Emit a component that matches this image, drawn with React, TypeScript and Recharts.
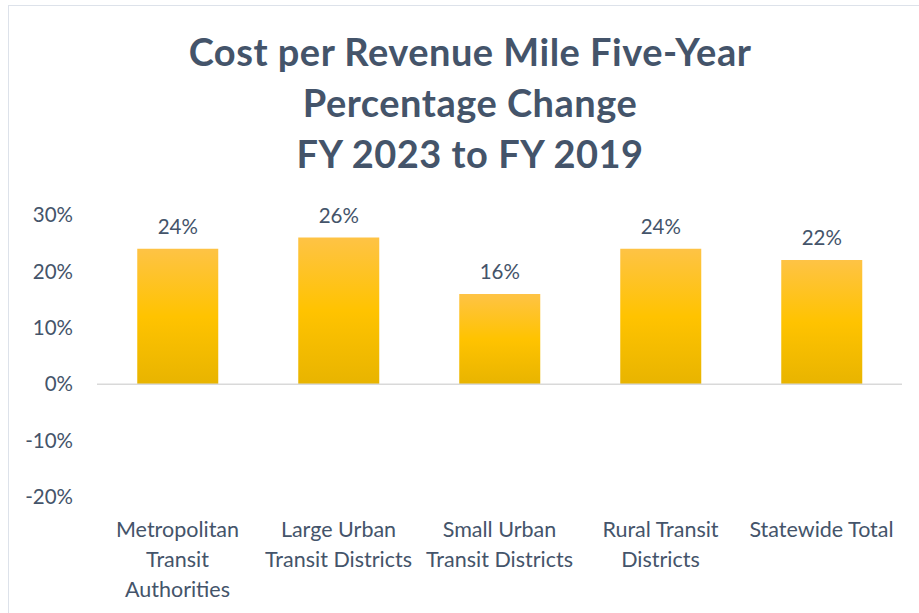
import React from "react";
import { BarChart, Bar, XAxis, YAxis, ReferenceLine, LabelList } from "recharts";

const categories = [
  "Metropolitan Transit Authorities",
  "Large Urban Transit Districts",
  "Small Urban Transit Districts",
  "Rural Transit Districts",
  "Statewide Total",
];
// how each category label wraps under the axis
const tickLines = [
  ["Metropolitan", "Transit", "Authorities"],
  ["Large Urban", "Transit Districts"],
  ["Small Urban", "Transit Districts"],
  ["Rural Transit", "Districts"],
  ["Statewide Total"],
];
const pctChange = [24, 26, 16, 24, 22];
const yTicks = [-20, -10, 0, 10, 20, 30];

const titleLines = ["Cost per Revenue Mile Five-Year", "Percentage Change", "FY 2023 to FY 2019"];

const data = categories.map((name, i) => ({ name, value: pctChange[i] }));

const textColor = "#44546A";
const font = "Lato, 'Open Sans', sans-serif";

const CategoryTick = (props: any) => {
  const { x, y, index } = props;
  const lines = tickLines[index] || [];
  return (
    <g transform={`translate(${x},${y})`}>
      {lines.map((l, i) => (
        <text
          key={i}
          x={0}
          y={i * 30}
          dy={32}
          textAnchor="middle"
          fill={textColor}
          fontSize={21.5}
          fontFamily={font}
        >
          {l}
        </text>
      ))}
    </g>
  );
};

const App = () => {
  return (
    <div style={{ position: "absolute", left: 0, top: 0, width: 919, height: 613, background: "#fff", overflow: "hidden" }}>
      <div
        style={{
          position: "absolute",
          left: 8,
          top: 5,
          width: 930,
          height: 640,
          border: "1px solid #dde2ea",
        }}
      />
      <div
        style={{
          position: "absolute",
          left: 20,
          top: 26,
          width: 900,
          textAlign: "center",
          fontFamily: font,
          fontWeight: 700,
          fontSize: 38,
          letterSpacing: 0.5,
          lineHeight: "51px",
          color: textColor,
        }}
      >
        {titleLines.map((t) => (
          <div key={t}>{t}</div>
        ))}
      </div>
      <div style={{ position: "absolute", left: 0, top: 0 }}>
        <BarChart
          width={919}
          height={613}
          data={data}
          margin={{ top: 215, right: 17, bottom: 0, left: 8 }}
          barCategoryGap="25%"
        >
          <defs>
            <linearGradient id="barFill" x1="0" y1="0" x2="0" y2="1">
              <stop offset="0%" stopColor="#FEC345" />
              <stop offset="50%" stopColor="#FFC300" />
              <stop offset="100%" stopColor="#E8B400" />
            </linearGradient>
          </defs>
          <XAxis
            dataKey="name"
            axisLine={false}
            tickLine={false}
            interval={0}
            tick={<CategoryTick />}
            height={116}
          />
          <YAxis
            domain={[-20, 30]}
            ticks={yTicks}
            axisLine={false}
            tickLine={false}
            tickSize={0}
            tickMargin={24}
            width={89}
            tickFormatter={(v: number) => `${v}%`}
            tick={{ fill: textColor, fontSize: 20.5, fontFamily: font }}
          />
          <ReferenceLine y={0} stroke="#d9d9d9" strokeWidth={1.5} />
          <Bar dataKey="value" fill="url(#barFill)" isAnimationActive={false}>
            <LabelList
              dataKey="value"
              position="top"
              offset={15}
              formatter={(v: any) => `${v}%`}
              style={{ fill: textColor, fontSize: 20.5, fontFamily: font }}
            />
          </Bar>
        </BarChart>
      </div>
    </div>
  );
};

export default App;
